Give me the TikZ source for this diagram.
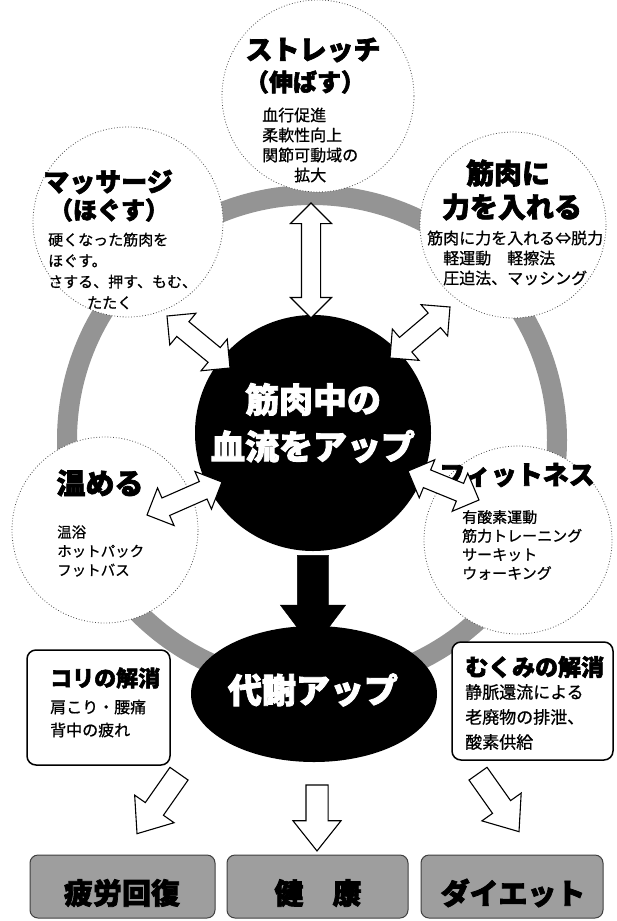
\documentclass[tikz,border=0pt]{standalone}
\usepackage{fontspec}
\setmainfont{Noto Sans CJK JP}[UprightFeatures={FakeBold=0.8}, BoldFeatures={FakeBold=2.5}]
\usetikzlibrary{shapes.arrows,shapes.geometric,calc}

\definecolor{ringgray}{gray}{0.58}
\definecolor{boxgray}{gray}{0.62}

% double arrow between two named points
\newcommand\dblconn[3]{%
 \path let \p1=($(#2)-(#1)$), \n1={atan2(\y1,\x1)}, \n2={veclen(\x1,\y1)} in
  ($(#1)!0.5!(#2)$) node[dblarr, rotate=\n1, minimum height=\n2] (#3) {};}
% single arrow from #1 to #2
\newcommand\sglconn[4]{%
 \path let \p1=($(#2)-(#1)$), \n1={atan2(\y1,\x1)}, \n2={veclen(\x1,\y1)} in
  ($(#1)!0.5!(#2)$) node[#4, rotate=\n1, minimum height=\n2] (#3) {};}

\begin{document}
\begin{tikzpicture}[x=1pt,y=-1pt,
  sat/.style={circle, draw=black!70, dotted, line width=0.8pt, fill=white, minimum size=#1, inner sep=0pt},
  hd/.style={font=\bfseries\fontsize{#1}{#1}\selectfont, inner sep=0pt},
  hd/.default=26,
  body/.style={align=left, inner sep=0pt, anchor=west},
  dblarr/.style={double arrow, draw=black, line width=1.1pt, fill=white, inner xsep=0pt, inner ysep=9pt, double arrow head extend=11pt, double arrow tip angle=90},
  hollowarr/.style={single arrow, draw=black, line width=1.1pt, fill=white, inner xsep=0pt, inner ysep=10.5pt, single arrow head extend=13pt, single arrow tip angle=77},
  blackarr/.style={single arrow, draw=black, fill=black, inner xsep=0pt, inner ysep=15.5pt, single arrow head extend=17pt, single arrow tip angle=74},
  infobox/.style={draw=black, line width=1.5pt, fill=white, rounded corners=9pt, inner sep=0pt},
  resbox/.style={draw=black!75, line width=1pt, fill=boxgray, rounded corners=8pt, inner sep=0pt},
  restext/.style={font=\bfseries\fontsize{29}{29}\selectfont, inner sep=0pt},
]
\useasboundingbox[fill=white] (0,0) rectangle (616,921);

% ring
\draw[ringgray, line width=20pt] (312,440) circle[radius=245pt];

% satellite circles
\node[sat=192pt] (stretch) at (318,96) {};
\node[sat=190pt] (massage) at (128,222) {};
\node[sat=186pt] (power) at (513,225) {};
\node[sat=186pt] (warm) at (105,530) {};
\node[sat=188pt] (fit) at (518,540) {};

% stretch
\node[hd=27] (stretchT) at (313,50) {ストレッチ};
\node[hd=24] (stretchP) at (305,82) {（伸ばす）};
\node[body, font=\fontsize{16}{20}\selectfont] (stretchB) at (262,145) {血行促進\\柔軟性向上\\関節可動域の\\\hspace*{2em}拡大};
% massage
\node[hd=26] (massT) at (108,182) {マッサージ};
\node[hd=24] (massP) at (109,210) {（ほぐす）};
\node[body, font=\fontsize{15}{21}\selectfont] (massB) at (48,271) {硬くなった筋肉を\\ほぐす。\\さする、押す、もむ、\\\hspace*{2.6em}たたく};
% power
\node[hd=28] (powT1) at (508,173) {筋肉に};
\node[hd=28] (powT2) at (512,207) {力を入れる};
\node[body, font=\fontsize{16}{20}\selectfont] (powB) at (427,258) {筋肉に力を入れる⇔脱力\\\hspace*{1em}軽運動　軽擦法\\\hspace*{1em}圧迫法、マッシング};
% warm
\node[hd=29] (warmT) at (100,483) {温める};
\node[body, font=\fontsize{14.5}{19}\selectfont] (warmB) at (57,551) {温浴\\ホットパック\\フットバス};
% fitness
\node[hd=26] (fitT) at (517,475) {フィットネス};
\node[body, font=\fontsize{15}{18.7}\selectfont] (fitB) at (462,545) {有酸素運動\\筋力トレーニング\\サーキット\\ウォーキング};

% center
\node[circle, fill=black, minimum size=236pt, inner sep=0pt] (center) at (313,433) {};
\node[text=white, font=\bfseries\fontsize{34}{47}\selectfont, align=center, inner sep=0pt] (centerT) at (313,423) {筋肉中の\\血流をアップ};

% metabolism ellipse
\node[ellipse, fill=black, minimum width=246pt, minimum height=136pt, inner sep=0pt] (metab) at (314,694) {};
\node[text=white, font=\bfseries\fontsize{34}{34}\selectfont, inner sep=0pt] (metabT) at (313,690) {代謝アップ};

% black arrow
\coordinate (ba1) at (313,545);
\coordinate (ba2) at (313,638);
\sglconn{ba1}{ba2}{barrow}{blackarr}

% double arrows
\coordinate (d1a) at (311,203); \coordinate (d1b) at (311,318);
\coordinate (d2a) at (167,316); \coordinate (d2b) at (230,368);
\coordinate (d3a) at (390,358); \coordinate (d3b) at (450,307);
\coordinate (d4a) at (147,515); \coordinate (d4b) at (222,482);
\coordinate (d5a) at (408,471); \coordinate (d5b) at (479,500);
\dblconn{d1a}{d1b}{arrStretch}
\dblconn{d2a}{d2b}{arrMass}
\dblconn{d3a}{d3b}{arrPow}
\dblconn{d4a}{d4b}{arrWarm}
\dblconn{d5a}{d5b}{arrFit}

% info boxes
\node[infobox, minimum width=143pt, minimum height=115pt] (kori) at (98.5,707.5) {};
\node[anchor=west, inner sep=0pt, font=\bfseries\fontsize{22}{22}\selectfont] (koriT) at (50,678) {コリの解消};
\node[body, font=\fontsize{16}{23}\selectfont] (koriB) at (50,718.5) {肩こり・腰痛\\背中の疲れ};

\node[infobox, minimum width=161pt, minimum height=118pt] (mukumi) at (532.5,701) {};
\node[anchor=west, inner sep=0pt, font=\bfseries\fontsize{23}{23}\selectfont] (mukT) at (465,667) {むくみの解消};
\node[body, font=\fontsize{17}{25}\selectfont] (mukB) at (465,717) {静脈還流による\\老廃物の排泄、\\酸素供給};

% bottom arrows
\coordinate (la1) at (183,768); \coordinate (la2) at (141,828);
\coordinate (ma1) at (317,778); \coordinate (ma2) at (317,844);
\coordinate (ra1) at (474,768); \coordinate (ra2) at (515,826);
\sglconn{la1}{la2}{arrL}{hollowarr}
\sglconn{ma1}{ma2}{arrM}{hollowarr}
\sglconn{ra1}{ra2}{arrR}{hollowarr}

% result boxes
\node[resbox, minimum width=185pt, minimum height=63pt] (fatigue) at (122.5,886.5) {};
\node[resbox, minimum width=181pt, minimum height=63pt] (health) at (317.5,886.5) {};
\node[resbox, minimum width=182pt, minimum height=63pt] (diet) at (512,886.5) {};
\node[restext] (fatigueT) at (122,893) {疲労回復};
\node[restext] (healthT) at (318,893) {健　康};
\node[restext] (dietT) at (513,893) {ダイエット};
\end{tikzpicture}
\end{document}
